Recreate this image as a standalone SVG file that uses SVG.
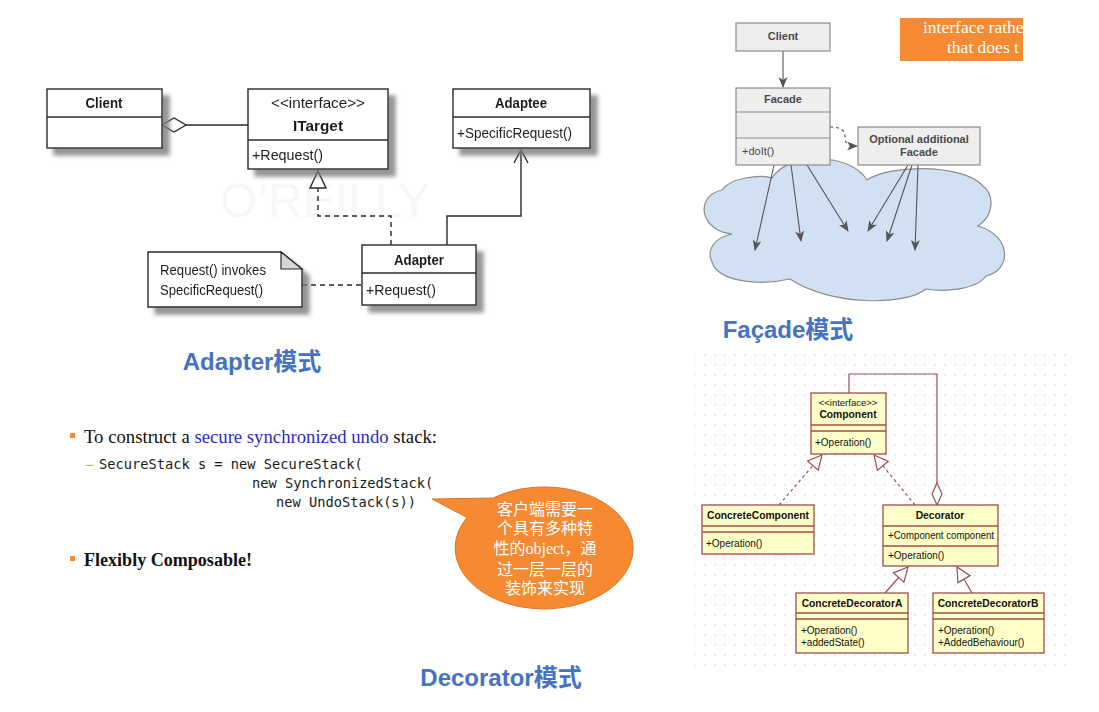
<svg xmlns="http://www.w3.org/2000/svg" width="1099" height="712" viewBox="0 0 1099 712">
<style>
.ad-box{fill:#fff;stroke:#2a2a2a;stroke-width:1.4}
.ad-line{fill:none;stroke:#2a2a2a;stroke-width:1.4}
.ad-dash{fill:none;stroke:#2a2a2a;stroke-width:1.4;stroke-dasharray:5,4}
.ad-t{font-family:"Liberation Sans Narrow","Liberation Sans",sans-serif;font-size:15px;fill:#1e1e1e}
.b{font-weight:bold}
.fc-box{fill:#eeeeee;stroke:#8c8c8c;stroke-width:1.2}
.fc-line{fill:none;stroke:#555;stroke-width:1.1}
.fc-t{font-family:"Liberation Sans",sans-serif;font-size:11px;font-weight:bold;fill:#4a4a4a}
.fc-n{font-family:"Liberation Sans",sans-serif;font-size:11px;fill:#4a4a4a}
.dc-box{fill:#ffffc8;stroke:#a04c4c;stroke-width:1.3}
.dc-line{fill:none;stroke:#a04c4c;stroke-width:1.2}
.dc-dash{fill:none;stroke:#a04c4c;stroke-width:1.2;stroke-dasharray:3,3}
.dc-t{font-family:"Liberation Sans",sans-serif;font-size:10px;fill:#111}
.dc-s{font-family:"Liberation Sans",sans-serif;font-size:9.5px;fill:#111}
.dc-b{font-family:"Liberation Sans",sans-serif;font-size:10.3px;font-weight:bold;fill:#111}
.title{font-family:"Liberation Sans","Noto Sans CJK SC",sans-serif;font-size:24px;font-weight:bold;fill:#4472c4}
.serif{font-family:"Liberation Serif","Noto Sans CJK SC",serif}
.mono{font-family:"DejaVu Sans Mono","Liberation Mono",monospace;font-size:13.7px;fill:#1a1a1a}
.cjk{font-family:"Liberation Serif","Noto Sans CJK SC",sans-serif;font-size:16px;fill:#fff}
</style>
<defs>
<filter id="shadow" x="-10%" y="-10%" width="130%" height="140%">
<feGaussianBlur in="SourceAlpha" stdDeviation="2"/>
<feOffset dx="7" dy="7" result="o"/>
<feFlood flood-color="#7a7a7a" flood-opacity="0.8"/>
<feComposite in2="o" operator="in"/>
<feMerge><feMergeNode/><feMergeNode in="SourceGraphic"/></feMerge>
</filter>
<pattern id="dots" width="10" height="10" patternUnits="userSpaceOnUse">
<circle cx="5" cy="5" r="0.7" fill="#c8c8c8"/>
</pattern>
<marker id="fcArrow" markerWidth="11" markerHeight="9" refX="10" refY="4.5" orient="auto" markerUnits="userSpaceOnUse">
<path d="M0,0 L11,4.5 L0,9 L3,4.5 Z" fill="#555"/>
</marker>
<marker id="dcTri" markerWidth="16" markerHeight="16" refX="15" refY="8" orient="auto" markerUnits="userSpaceOnUse">
<path d="M1,1 L15,8 L1,15 Z" fill="#fff" stroke="#a04c4c" stroke-width="1.2"/>
</marker>
<clipPath id="orangeClip"><rect x="900" y="18" width="123" height="43"/></clipPath>
</defs>
<rect width="1099" height="712" fill="#fff"/>

<!-- ================= Adapter ================= -->
<text x="325" y="217" font-family="Liberation Sans,sans-serif" font-size="48" text-anchor="middle" fill="#f7f7f7">O’REILLY</text>
<g id="adapter-connectors">
<path class="ad-line" d="M186,125 H248"/>
<polygon points="162,125 174,118 186,125 174,132" fill="#fff" stroke="#2a2a2a" stroke-width="1.4"/>
<path class="ad-dash" d="M391,245 V216 H318 V188"/>
<polygon points="318,171 310,188 326,188" fill="#fff" stroke="#2a2a2a" stroke-width="1.4"/>
<path class="ad-line" d="M447,245 V216 H521 V150"/>
<path class="ad-line" d="M514,163 L521,150 L528,163"/>
<path class="ad-dash" d="M302,285 H362"/>
</g>
<g id="ad-client" filter="url(#shadow)">
<rect class="ad-box" x="47" y="89" width="115" height="59"/>
<line class="ad-line" x1="47" y1="117" x2="162" y2="117"/>
<text class="ad-t b" x="104" y="108" text-anchor="middle" textLength="37" lengthAdjust="spacingAndGlyphs">Client</text>
</g>
<g id="ad-itarget" filter="url(#shadow)">
<rect class="ad-box" x="248" y="89" width="140" height="80"/>
<line class="ad-line" x1="248" y1="140" x2="388" y2="140"/>
<text class="ad-t" x="318" y="108" text-anchor="middle" textLength="94" lengthAdjust="spacingAndGlyphs">&lt;&lt;interface&gt;&gt;</text>
<text class="ad-t b" x="318" y="131" text-anchor="middle" textLength="50" lengthAdjust="spacingAndGlyphs">ITarget</text>
<text class="ad-t" x="252" y="160" textLength="71" lengthAdjust="spacingAndGlyphs">+Request()</text>
</g>
<g id="ad-adaptee" filter="url(#shadow)">
<rect class="ad-box" x="453" y="89" width="137" height="59"/>
<line class="ad-line" x1="453" y1="117" x2="590" y2="117"/>
<text class="ad-t b" x="521" y="108" text-anchor="middle" textLength="52" lengthAdjust="spacingAndGlyphs">Adaptee</text>
<text class="ad-t" x="457" y="138" textLength="115" lengthAdjust="spacingAndGlyphs">+SpecificRequest()</text>
</g>
<g id="ad-adapter" filter="url(#shadow)">
<rect class="ad-box" x="362" y="245" width="114" height="60"/>
<line class="ad-line" x1="362" y1="273" x2="476" y2="273"/>
<text class="ad-t b" x="419" y="265" text-anchor="middle" textLength="50" lengthAdjust="spacingAndGlyphs">Adapter</text>
<text class="ad-t" x="366" y="295" textLength="70" lengthAdjust="spacingAndGlyphs">+Request()</text>
</g>
<g id="ad-note" filter="url(#shadow)">
<path class="ad-box" d="M148,252 H281 L302,269 V307 H148 Z"/>
<path d="M281,252 V269 H302 Z" fill="#d6d6d6" stroke="#2a2a2a" stroke-width="1.2"/>
<text class="ad-t" x="160" y="275" textLength="106" lengthAdjust="spacingAndGlyphs">Request() invokes</text>
<text class="ad-t" x="160" y="295" textLength="103" lengthAdjust="spacingAndGlyphs">SpecificRequest()</text>
</g>
<text class="title" x="252" y="370" text-anchor="middle">Adapter模式</text>

<!-- ================= Facade ================= -->
<g id="fc-orange">
<rect x="900" y="18" width="123" height="43" fill="#f68b33"/>
<g clip-path="url(#orangeClip)" class="serif" font-size="17.5" fill="#fff">
<text x="923" y="33">interface rathe</text>
<text x="947" y="53">that does t</text>
</g>
</g>
<g id="fc-cloud">
<path d="M732,234 C700,231 694,196 722,190 C730,178 760,174 772,178 C788,152 850,152 867,180 C890,164 962,164 982,185 C996,196 993,216 978,226 C1012,236 1012,270 986,276 C976,290 944,292 926,289 C906,306 830,306 790,279 C760,286 718,282 712,262 C706,250 714,238 732,234 Z" fill="#d2e0f4" stroke="#8c8c8c" stroke-width="1.2"/>
</g>
<g id="fc-connectors">
<line class="fc-line" x1="783" y1="51" x2="783" y2="87" marker-end="url(#fcArrow)"/>
<path class="fc-line" d="M830,127 C842,127 845,131 845,137 C845,144 848,146 857,146" stroke-dasharray="3,3" marker-end="url(#fcArrow)"/>
<line class="fc-line" x1="774" y1="165" x2="755" y2="250" marker-end="url(#fcArrow)"/>
<line class="fc-line" x1="791" y1="165" x2="801" y2="241" marker-end="url(#fcArrow)"/>
<line class="fc-line" x1="807" y1="165" x2="848" y2="231" marker-end="url(#fcArrow)"/>
<line class="fc-line" x1="908" y1="165" x2="868" y2="231" marker-end="url(#fcArrow)"/>
<line class="fc-line" x1="912" y1="165" x2="887" y2="241" marker-end="url(#fcArrow)"/>
<line class="fc-line" x1="918" y1="165" x2="915" y2="250" marker-end="url(#fcArrow)"/>
</g>
<g id="fc-client">
<rect class="fc-box" x="736" y="23" width="94" height="28"/>
<text class="fc-t" x="783" y="40" text-anchor="middle">Client</text>
</g>
<g id="fc-facade">
<rect class="fc-box" x="736" y="88" width="94" height="77"/>
<line class="fc-box" x1="736" y1="112" x2="830" y2="112"/>
<line class="fc-box" x1="736" y1="138" x2="830" y2="138"/>
<text class="fc-t" x="783" y="103" text-anchor="middle">Facade</text>
<text class="fc-n" x="742" y="155">+doIt()</text>
</g>
<g id="fc-optional">
<rect class="fc-box" x="858" y="127" width="122" height="38"/>
<text class="fc-t" x="919" y="143" text-anchor="middle">Optional additional</text>
<text class="fc-t" x="919" y="156" text-anchor="middle">Facade</text>
</g>
<text class="title" x="788" y="338" text-anchor="middle">Façade模式</text>

<!-- ================= Decorator text ================= -->
<g id="dec-text">
<rect x="70" y="433" width="5" height="5" fill="#f68b33"/>
<text class="serif" x="84" y="443" font-size="18" fill="#111" textLength="353" lengthAdjust="spacingAndGlyphs">To construct a <tspan fill="#2b2bd0">secure synchronized undo</tspan> stack:</text>
<text class="serif" x="86" y="469" font-size="15" fill="#f68b33">–</text>
<text class="mono" x="99" y="469">SecureStack s = new SecureStack(</text>
<text class="mono" x="252" y="488">new SynchronizedStack(</text>
<text class="mono" x="276" y="507">new UndoStack(s))</text>
<rect x="70" y="556" width="5" height="5" fill="#f68b33"/>
<text class="serif" x="84" y="566" font-size="18" font-weight="bold" fill="#111" textLength="168" lengthAdjust="spacingAndGlyphs">Flexibly Composable!</text>
</g>
<g id="dec-bubble">
<path d="M493,498 A89,61 0 1,1 467,517.5 L432,499 Z" fill="#f68a33" stroke="#e37420" stroke-width="1"/>
<text class="cjk" x="545" y="515" text-anchor="middle">客户端需要一</text>
<text class="cjk" x="545" y="534" text-anchor="middle">个具有多种特</text>
<text class="cjk" x="545" y="554" text-anchor="middle">性的object，通</text>
<text class="cjk" x="545" y="575" text-anchor="middle">过一层一层的</text>
<text class="cjk" x="545" y="594" text-anchor="middle">装饰来实现</text>
</g>
<text class="title" x="501" y="686" text-anchor="middle">Decorator模式</text>

<!-- ================= Decorator UML ================= -->
<rect x="695" y="352" width="372" height="315" fill="url(#dots)"/>
<g id="dc-connectors">
<path class="dc-line" d="M849,393 V374 H937 V483"/>
<polygon points="937,483 942,494 937,505 932,494" fill="#fff" stroke="#a04c4c" stroke-width="1.2"/>
<line class="dc-dash" x1="779" y1="505" x2="822" y2="455" marker-end="url(#dcTri)"/>
<line class="dc-dash" x1="915" y1="505" x2="874" y2="455" marker-end="url(#dcTri)"/>
<line class="dc-line" x1="885" y1="593" x2="908" y2="567" marker-end="url(#dcTri)"/>
<line class="dc-line" x1="972" y1="593" x2="957" y2="567" marker-end="url(#dcTri)"/>
</g>
<g id="dc-component">
<rect class="dc-box" x="811" y="393" width="75" height="61"/>
<line class="dc-box" x1="811" y1="425" x2="886" y2="425"/>
<line class="dc-box" x1="811" y1="431" x2="886" y2="431"/>
<text class="dc-s" x="848" y="406" text-anchor="middle">&lt;&lt;interface&gt;&gt;</text>
<text class="dc-b" x="848" y="418" text-anchor="middle">Component</text>
<text class="dc-t" x="815" y="446">+Operation()</text>
</g>
<g id="dc-concretecomponent">
<rect class="dc-box" x="702" y="505" width="112" height="49"/>
<line class="dc-box" x1="702" y1="526" x2="814" y2="526"/>
<line class="dc-box" x1="702" y1="532" x2="814" y2="532"/>
<text class="dc-b" x="758" y="519" text-anchor="middle">ConcreteComponent</text>
<text class="dc-t" x="706" y="547">+Operation()</text>
</g>
<g id="dc-decorator">
<rect class="dc-box" x="883" y="505" width="115" height="61"/>
<line class="dc-box" x1="883" y1="526" x2="998" y2="526"/>
<line class="dc-box" x1="883" y1="546" x2="998" y2="546"/>
<text class="dc-b" x="940" y="519" text-anchor="middle">Decorator</text>
<text class="dc-t" x="888" y="539" textLength="106" lengthAdjust="spacingAndGlyphs">+Component component</text>
<text class="dc-t" x="888" y="559">+Operation()</text>
</g>
<g id="dc-decoratorA">
<rect class="dc-box" x="796" y="593" width="112" height="60"/>
<line class="dc-box" x1="796" y1="613" x2="908" y2="613"/>
<line class="dc-box" x1="796" y1="619" x2="908" y2="619"/>
<text class="dc-b" x="852" y="607" text-anchor="middle">ConcreteDecoratorA</text>
<text class="dc-t" x="801" y="634">+Operation()</text>
<text class="dc-t" x="801" y="646">+addedState()</text>
</g>
<g id="dc-decoratorB">
<rect class="dc-box" x="933" y="593" width="111" height="60"/>
<line class="dc-box" x1="933" y1="613" x2="1044" y2="613"/>
<line class="dc-box" x1="933" y1="619" x2="1044" y2="619"/>
<text class="dc-b" x="988" y="607" text-anchor="middle">ConcreteDecoratorB</text>
<text class="dc-t" x="938" y="634">+Operation()</text>
<text class="dc-t" x="938" y="646">+AddedBehaviour()</text>
</g>
</svg>
